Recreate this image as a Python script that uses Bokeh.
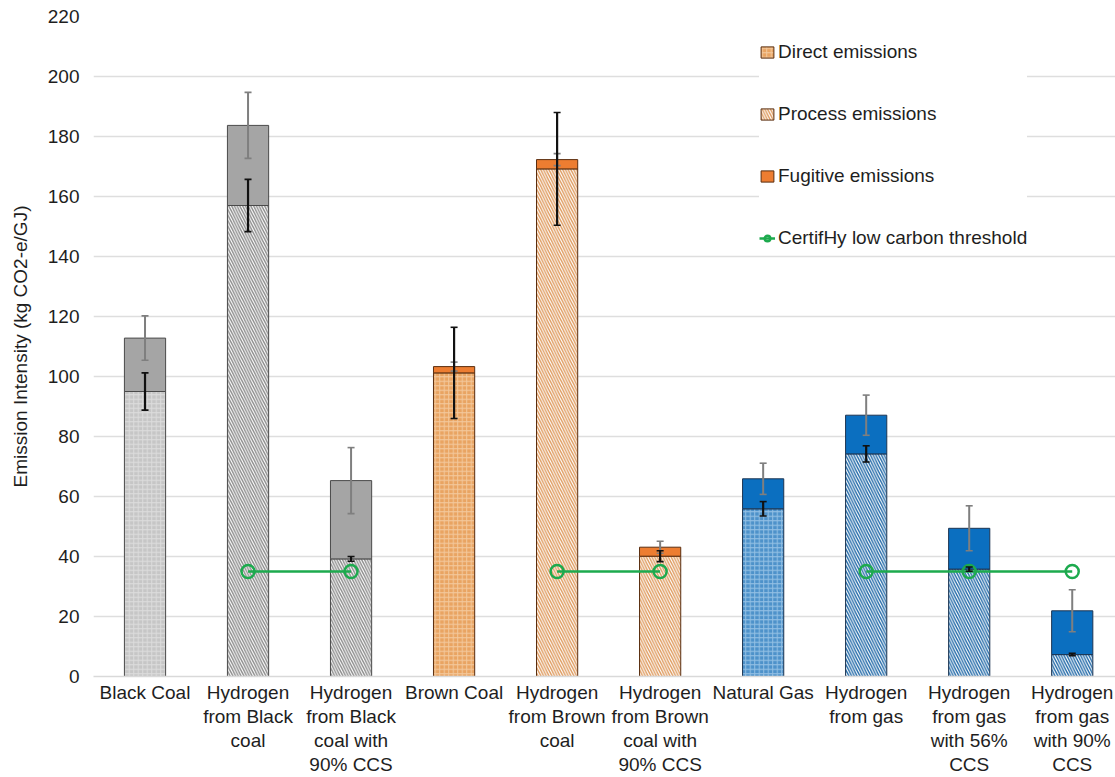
from bokeh.plotting import figure
from bokeh.models import (ColumnDataSource, Range1d, FixedTicker, Whisker, TeeHead,
                          Legend, LegendItem)
from bokeh.embed import file_html
from bokeh.resources import INLINE

# ---------------- data ----------------
categories = [
    "Black Coal",
    "Hydrogen\nfrom Black\ncoal",
    "Hydrogen\nfrom Black\ncoal with\n90% CCS",
    "Brown Coal",
    "Hydrogen\nfrom Brown\ncoal",
    "Hydrogen\nfrom Brown\ncoal with\n90% CCS",
    "Natural Gas",
    "Hydrogen\nfrom gas",
    "Hydrogen\nfrom gas\nwith 56%\nCCS",
    "Hydrogen\nfrom gas\nwith 90%\nCCS",
]
fuel_group = ["black", "black", "black", "brown", "brown", "brown", "gas", "gas", "gas", "gas"]
base_kind = ["direct", "process", "process", "direct", "process", "process",
             "direct", "process", "process", "process"]
base_values = [95.0, 157.0, 39.2, 101.2, 169.2, 40.1, 55.9, 74.2, 35.8, 7.3]
fugitive_values = [17.8, 26.7, 26.1, 2.1, 3.1, 3.0, 10.0, 12.9, 13.6, 14.6]
base_err = [6.2, 8.7, 0.8, 15.2, 18.8, 1.8, 2.4, 2.7, 0.7, 0.4]
total_err = [7.4, 11.0, 11.0, 1.5, 2.0, 2.0, 5.2, 6.7, 7.5, 7.0]
threshold_value = 35
threshold_groups = [[1, 2], [4, 5], [7, 8, 9]]
y_ticks = list(range(0, 221, 20))

# ---------------- styles ----------------
FONT = "Liberation Sans"
TXT = "#1e1e1e"
styles = {
    "black": dict(direct=dict(fill_color="#C6C6C6", hatch_color="#DCDCDC"),
                  process=dict(fill_color="#FFFFFF", hatch_color="#8A8A8A"),
                  fugitive="#A5A5A5", outline="#4A4A4A"),
    "brown": dict(direct=dict(fill_color="#E9A462", hatch_color="#F3C89C"),
                  process=dict(fill_color="#FFFFFF", hatch_color="#DE9A5E"),
                  fugitive="#ED7D31", outline="#5A2E10"),
    "gas": dict(direct=dict(fill_color="#4E92CA", hatch_color="#93C0E4"),
                process=dict(fill_color="#FFFFFF", hatch_color="#236AA8"),
                fugitive="#0B6FC0", outline="#1D3552"),
}
GREEN = "#1DAA4E"
BAR_W = 0.4

p = figure(width=1115, height=777, output_backend="svg", toolbar_location=None,
           x_range=Range1d(-0.5, 9.42), y_range=Range1d(0, 220),
           min_border_left=93, min_border_right=0, min_border_top=16,
           min_border_bottom=0)
p.outline_line_color = None
p.background_fill_color = "white"
p.border_fill_color = "white"

renderers = {}
for g in ["black", "brown", "gas"]:
    st = styles[g]
    for kind in ["direct", "process"]:
        idx = [i for i in range(len(categories)) if fuel_group[i] == g and base_kind[i] == kind]
        if not idx:
            continue
        src = ColumnDataSource(dict(x=idx, top=[base_values[i] for i in idx]))
        if kind == "direct":
            hk = dict(hatch_pattern="+", hatch_scale=4.5, hatch_weight=1.0)
        else:
            hk = dict(hatch_pattern="\\", hatch_scale=5.5, hatch_weight=1.4)
        r = p.vbar(x="x", top="top", bottom=0, width=BAR_W, source=src,
                   fill_color=st[kind]["fill_color"], line_color=st["outline"], line_width=1,
                   hatch_color=st[kind]["hatch_color"], **hk)
        renderers[(g, kind)] = r
    idx = [i for i in range(len(categories)) if fuel_group[i] == g]
    src = ColumnDataSource(dict(x=idx, bottom=[base_values[i] for i in idx],
                                top=[base_values[i] + fugitive_values[i] for i in idx]))
    r = p.vbar(x="x", top="top", bottom="bottom", width=BAR_W, source=src,
               fill_color=st["fugitive"], line_color=st["outline"], line_width=1)
    renderers[(g, "fugitive")] = r

# threshold line
line_r = None
for grp in threshold_groups:
    lr = p.line(x=grp, y=[threshold_value] * len(grp), line_color=GREEN, line_width=2.5)
    line_r = line_r or lr
all_x = [i for grp in threshold_groups for i in grp]
sc = p.scatter(x=all_x, y=[threshold_value] * len(all_x), marker="circle", size=13,
               fill_color=None, line_color=GREEN, line_width=2.5)

# error bars
xs = list(range(len(categories)))
totals = [b + f for b, f in zip(base_values, fugitive_values)]
grey_src = ColumnDataSource(dict(x=xs, upper=[t + e for t, e in zip(totals, total_err)],
                                 lower=[t - e for t, e in zip(totals, total_err)]))
black_src = ColumnDataSource(dict(x=xs, upper=[b + e for b, e in zip(base_values, base_err)],
                                  lower=[b - e for b, e in zip(base_values, base_err)]))
for src, col, lw in [(grey_src, "#7F7F7F", 2), (black_src, "#111111", 2.2)]:
    w = Whisker(source=src, base="x", upper="upper", lower="lower", line_color=col,
                line_width=lw, level="annotation",
                upper_head=TeeHead(size=7, line_color=col, line_width=1.6),
                lower_head=TeeHead(size=7, line_color=col, line_width=1.6))
    p.add_layout(w)

legend = Legend(items=[
    LegendItem(label="Direct emissions", renderers=[renderers[("brown", "direct")]]),
    LegendItem(label="Process emissions", renderers=[renderers[("brown", "process")]]),
    LegendItem(label="Fugitive emissions", renderers=[renderers[("brown", "fugitive")]]),
    LegendItem(label="CertifHy low carbon threshold", renderers=[line_r, sc]),
], location=(666, 427))
legend.label_text_font = FONT
legend.label_text_font_size = "19px"
legend.label_text_color = TXT
legend.glyph_width = 16
legend.glyph_height = 14
legend.label_height = 22
legend.label_standoff = 3
legend.spacing = 40
legend.padding = 10
legend.border_line_color = None
legend.background_fill_color = "white"
legend.background_fill_alpha = 1.0
p.add_layout(legend)

# axes
p.xaxis.ticker = FixedTicker(ticks=xs)
p.xaxis.major_label_overrides = {i: c for i, c in enumerate(categories)}
p.xaxis.major_label_text_font = FONT
p.xaxis.major_label_text_font_size = "19px"
p.xaxis.major_label_text_color = TXT
p.xaxis.major_label_text_line_height = 1.15
p.xaxis.major_label_standoff = 5
p.xaxis.major_tick_line_color = None
p.xaxis.major_tick_out = 0
p.xaxis.major_tick_in = 0
p.xaxis.minor_tick_line_color = None
p.xaxis.axis_line_color = "#D9D9D9"
p.xaxis.axis_line_width = 1.5

p.yaxis.ticker = FixedTicker(ticks=y_ticks)
p.yaxis.axis_label = "Emission Intensity (kg CO2-e/GJ)"
p.yaxis.axis_label_text_font = FONT
p.yaxis.axis_label_text_font_size = "19px"
p.yaxis.axis_label_text_font_style = "normal"
p.yaxis.axis_label_text_color = TXT
p.yaxis.axis_label_standoff = 14
p.yaxis.major_label_text_font = FONT
p.yaxis.major_label_text_font_size = "19px"
p.yaxis.major_label_text_color = TXT
p.yaxis.major_label_standoff = 14
p.yaxis.major_tick_line_color = None
p.yaxis.major_tick_out = 0
p.yaxis.major_tick_in = 0
p.yaxis.minor_tick_line_color = None
p.yaxis.axis_line_color = None

p.xgrid.grid_line_color = None
p.ygrid.grid_line_color = "#DEDEDE"
p.ygrid.grid_line_width = 1.5

open("out.html", "w").write(file_html(p, INLINE))
